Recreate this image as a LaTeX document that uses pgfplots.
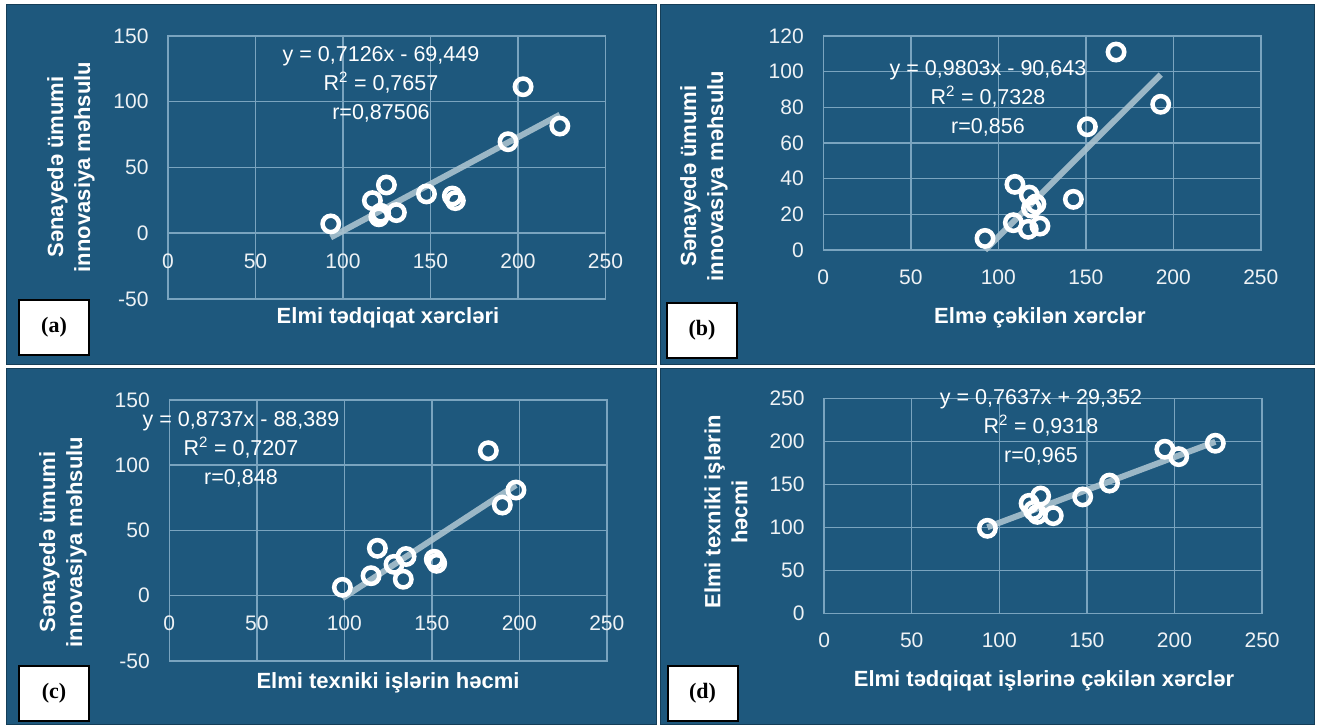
\documentclass[border=0pt]{standalone}
\usepackage{pgfplots}
\pgfplotsset{compat=1.18}
\usepackage{fontspec}
\setmainfont{Liberation Sans}
\newfontfamily\serifb{Liberation Serif}

\definecolor{panel}{HTML}{1E587D}
\definecolor{gridc}{HTML}{7AA4BF}
\definecolor{trendc}{HTML}{A9C2CF}
\definecolor{tickc}{HTML}{EEF2F5}

\newcommand\tickf{\fontsize{21}{25}\selectfont}
\newcommand\eqf{\fontsize{21.5}{29}\selectfont}
\newcommand\labf{\fontsize{22}{27}\selectfont\bfseries}

\pgfplotsset{
  panelax/.style={
    scale only axis, anchor=south west, clip=false,
    axis line style={gridc, line width=1.5pt},
    grid=major, major grid style={gridc, line width=1.5pt},
    major tick length=0pt,
    /pgf/number format/assume math mode=true,
    tick label style={font=\tickf, text=tickc},
    yticklabel style={anchor=east, xshift=-16pt},
    xmin=0, xmax=250, xtick={0,50,...,250},
  },
  pts/.style={only marks, mark=o, mark size=8.2pt,
    mark options={draw=white, line width=4.5pt}},
  trend/.style={no marks, trendc, line width=6pt, opacity=0.9},
}

\begin{document}
\begin{tikzpicture}[x=1pt,y=1pt]
\fill[white] (0,0) rectangle (1318,727);
% panels
\foreach \a/\b/\c/\d in {6/362/656/722, 660/362/1314/722, 6/2/656/358, 660/2/1314/358}
  \filldraw[fill=panel, draw=panel!70!black, line width=1pt] (\a,\b) rectangle (\c,\d);

% (a)
\begin{axis}[panelax, at={(168pt,428pt)}, width=437.5pt, height=263pt,
  ymin=-50, ymax=150, ytick={-50,0,...,150},
  xticklabel style={anchor=north, yshift=48.75pt}]
\addplot[trend] coordinates {(93.0,-3.18) (223.9,90.1)};
\addplot[pts] coordinates {
 (93.0,7.1) (116.8,24.8) (124.8,36.7) (121.5,15.2) (120.5,12.5) (130.5,15.7)
 (147.7,29.9) (162.5,28.3) (164.2,24.8) (194.3,69.6) (202.9,111.4) (223.9,81.5)};
\end{axis}

% (b)
\begin{axis}[panelax, at={(823.3pt,477pt)}, width=437.5pt, height=214pt,
  ymin=0, ymax=120, ytick={0,20,...,120},
  xticklabel style={anchor=north, yshift=-16pt}]
\addplot[trend] coordinates {(92.4,-0.06) (192.8,98.36)};
\addplot[pts] coordinates {
 (92.4,6.5) (109.5,36.8) (117.7,30.8) (121.5,25.8) (119.0,23.5) (108.6,15.3)
 (117.1,11.6) (123.8,13.4) (142.9,28.4) (150.9,69.1) (167.3,111.0) (192.8,81.7)};
\end{axis}

% (c)
\begin{axis}[panelax, at={(169.3pt,66pt)}, width=437.5pt, height=261.2pt,
  ymin=-50, ymax=150, ytick={-50,0,...,150},
  xticklabel style={anchor=north, yshift=48.3pt}]
\addplot[trend] coordinates {(98.9,-1.98) (198.1,84.7)};
\addplot[pts] coordinates {
 (98.9,6.4) (115.3,15.3) (118.9,36.3) (128.4,24.0) (135.3,30.0) (133.7,12.6)
 (151.4,27.9) (152.8,24.8) (190.3,69.4) (198.1,80.9) (182.3,111.0)};
\end{axis}

% (d)
\begin{axis}[panelax, at={(824.1pt,113.3pt)}, width=438pt, height=215pt,
  ymin=0, ymax=250, ytick={0,50,...,250},
  xticklabel style={anchor=north, yshift=-16pt}]
\addplot[trend] coordinates {(93.2,100.53) (223.3,199.88)};
\addplot[pts] coordinates {
 (93.2,99.3) (117.0,128.3) (123.6,136.8) (121.7,115.5) (119.5,120.0) (130.8,114.0)
 (147.6,135.8) (162.9,151.9) (194.5,191.2) (202.4,182.6) (223.3,198.2)};
\end{axis}

% axis titles
\begin{scope}[every node/.style={text=white, font=\labf}]
\node at (388,409) {Elmi tədqiqat xərcləri};
\node at (1040,409) {Elmə çəkilən xərclər};
\node at (388,44) {Elmi texniki işlərin həcmi};
\node at (1044,46) {Elmi tədqiqat işlərinə çəkilən xərclər};
\node[rotate=90, align=center] at (71,560) {Sənayedə ümumi\\innovasiya məhsulu};
\node[rotate=90, align=center] at (704,551) {Sənayedə ümumi\\innovasiya məhsulu};
\node[rotate=90, align=center] at (63,185) {Sənayedə ümumi\\innovasiya məhsulu};
\node[rotate=90, align=center] at (726,215) {Elmi texniki işlərin\\həcmi};
\end{scope}

% equations
\begin{scope}[every node/.style={text=white, font=\eqf, align=center}]
\node at (381,643) {y = 0,7126x - 69,449\\R\textsuperscript{2} = 0,7657\\r=0,87506};
\node at (988,629) {y = 0,9803x - 90,643\\R\textsuperscript{2} = 0,7328\\r=0,856};
\node at (241,278) {y = 0,8737x - 88,389\\R\textsuperscript{2} = 0,7207\\r=0,848};
\node at (1041,300) {y = 0,7637x + 29,352\\R\textsuperscript{2} = 0,9318\\r=0,965};
\end{scope}

% panel labels
\begin{scope}[every node/.style={fill=white, draw=black, line width=2pt,
  minimum width=70pt, minimum height=55pt, font=\fontsize{22}{26}\selectfont\serifb\bfseries}]
\node at (54,399.5) {(a)};
\node at (702,396.5) {(b)};
\node at (54,33.5) {(c)};
\node at (702.5,33.5) {(d)};
\end{scope}
\end{tikzpicture}
\end{document}
